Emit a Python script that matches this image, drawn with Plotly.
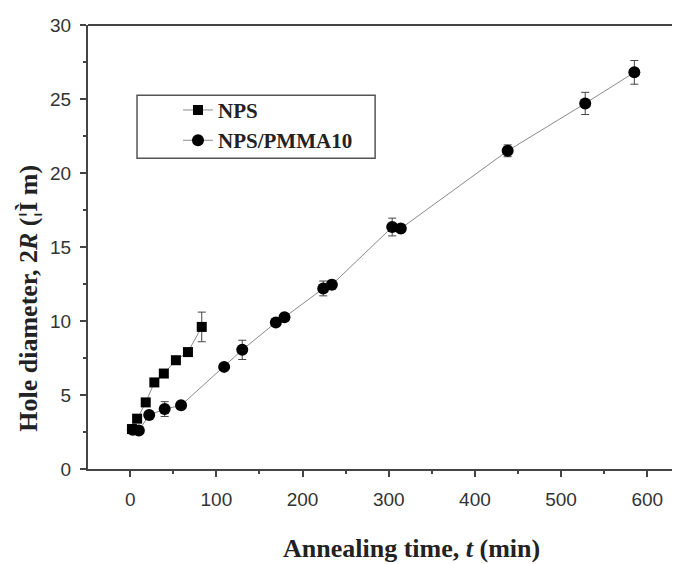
import plotly.graph_objects as go

# NPS series
nps_t = [2, 8, 18, 28, 39, 53, 67, 83]
nps_d = [2.7, 3.4, 4.5, 5.85, 6.45, 7.35, 7.9, 9.6]
nps_err = [0.2, 0.2, 0.2, 0.2, 0.2, 0.2, 0.2, 1.0]

# NPS/PMMA10 series
pmma_t = [3, 10, 22, 40, 59, 109, 130, 169, 179, 224, 234, 304, 314, 438, 528, 585]
pmma_d = [2.65, 2.6, 3.65, 4.05, 4.3, 6.9, 8.05, 9.9, 10.25, 12.2, 12.45, 16.35, 16.25, 21.5, 24.7, 26.8]
pmma_err = [0.2, 0.2, 0.2, 0.5, 0.2, 0.2, 0.65, 0.2, 0.25, 0.5, 0.3, 0.6, 0.2, 0.4, 0.75, 0.8]

x_ticks = [0, 100, 200, 300, 400, 500, 600]
y_ticks = [0, 5, 10, 15, 20, 25, 30]

fig = go.Figure()
fig.add_trace(go.Scatter(
    x=nps_t, y=nps_d, name="<b>NPS</b>", mode="lines+markers",
    line=dict(color="#8a8a8a", width=1),
    marker=dict(symbol="square", size=10, color="black"),
    error_y=dict(type="data", array=nps_err, color="#444", thickness=1, width=4),
))
fig.add_trace(go.Scatter(
    x=pmma_t, y=pmma_d, name="<b>NPS/PMMA10</b>", mode="lines+markers",
    line=dict(color="#8a8a8a", width=1),
    marker=dict(symbol="circle", size=12, color="black"),
    error_y=dict(type="data", array=pmma_err, color="#444", thickness=1, width=4),
))

tickfont = dict(family="Liberation Sans, Arial", size=19, color="#333")
serif = "Liberation Serif, Times New Roman"
fig.update_layout(
    width=680, height=564,
    margin=dict(l=80, r=8, t=17, b=103),
    plot_bgcolor="white", paper_bgcolor="white",
    showlegend=True,
    legend=dict(
        x=0.152, y=0.854, xanchor="left", yanchor="top",
        borderwidth=0, bgcolor="rgba(0,0,0,0)",
        font=dict(family=serif, size=21, color="#222"),
    ),
    xaxis=dict(
        range=[-49, 638], tickvals=x_ticks, ticktext=[str(v) for v in x_ticks],
        showgrid=False, zeroline=False, showline=True, linecolor="#444", linewidth=2,
        ticks="outside", ticklen=6, tickwidth=1.5, tickcolor="#444",
        minor=dict(dtick=50, tick0=0, ticks="outside", ticklen=3, tickcolor="#444", tickwidth=1.5),
        tickfont=tickfont, ticklabelstandoff=6,
    ),
    yaxis=dict(
        range=[0, 30], tickvals=y_ticks, ticktext=[str(v) for v in y_ticks],
        showgrid=False, zeroline=False, showline=True, linecolor="#444", linewidth=2,
        ticks="outside", ticklen=6, tickwidth=1.5, tickcolor="#444",
        minor=dict(dtick=2.5, tick0=0, ticks="outside", ticklen=3, tickcolor="#444", tickwidth=1.5),
        tickfont=tickfont, ticklabelstandoff=5,
    ),
    shapes=[
        dict(type="line", xref="paper", yref="paper", x0=0, x1=1, y0=1, y1=1,
             line=dict(color="#444", width=2)),
        dict(type="rect", xref="paper", yref="paper", x0=0.0828, x1=0.485, y0=0.700, y1=0.842,
             line=dict(color="#555", width=1.5), fillcolor="rgba(0,0,0,0)", layer="above"),
    ],
    annotations=[
        dict(text="<b>Annealing time, <i>t</i> (min)</b>", xref="paper", yref="paper",
             x=0.547, y=-0.180, xanchor="center", yanchor="middle", showarrow=False,
             font=dict(family=serif, size=26, color="#222")),
        dict(text="<b>Hole diameter, 2<i>R</i> (¦Ì m)</b>", xref="paper", yref="paper",
             x=-0.101, y=0.384, xanchor="center", yanchor="middle", showarrow=False,
             textangle=-90,
             font=dict(family=serif, size=26, color="#222")),
    ],
)

fig.write_html("out.html")
